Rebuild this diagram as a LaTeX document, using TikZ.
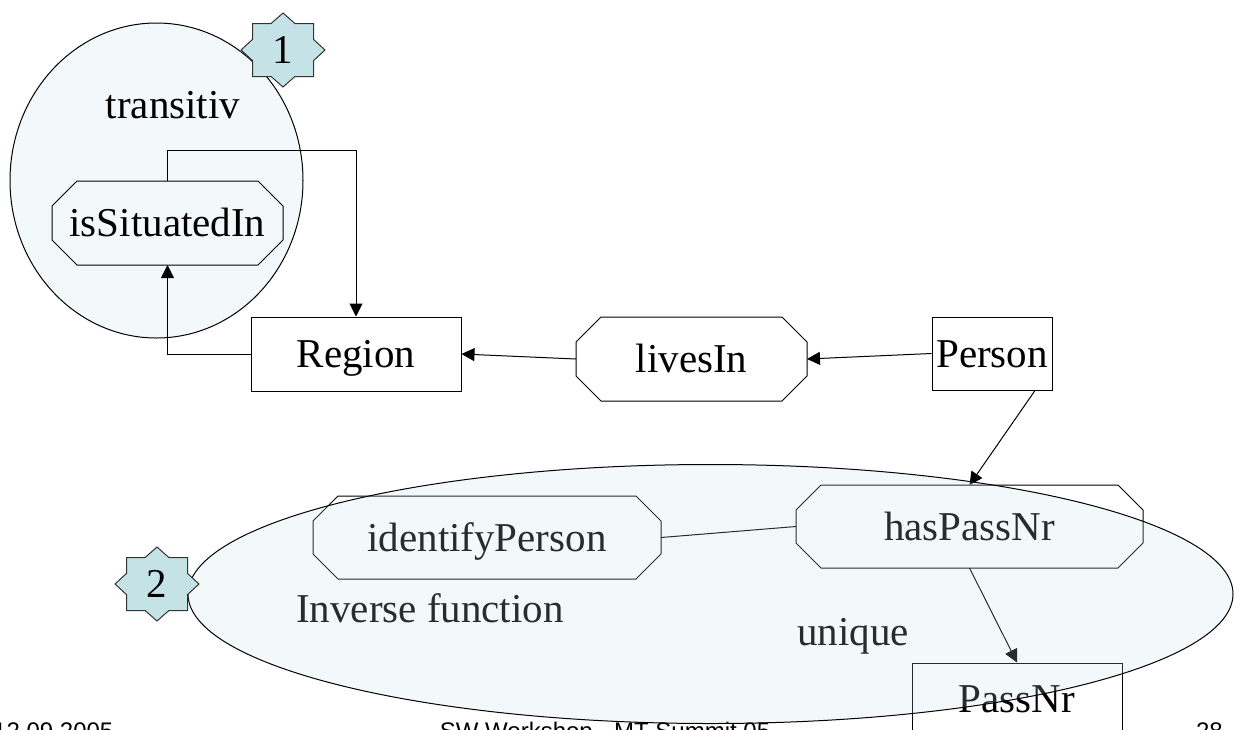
\documentclass[tikz,border=0pt]{standalone}
\usepackage{fontspec}
\setmainfont{Liberation Serif}
\newfontfamily\footfont{Liberation Sans}
\usetikzlibrary{arrows.meta,calc}
\definecolor{starblue}{RGB}{197,227,231}

\tikzset{
  octostar/.pic={
    \draw[fill=starblue, draw=black!80, line width=1pt]
      (0,-37) -- (11.9,-26.5) -- (30.5,-26.5) -- (30.5,-10.6) -- (42,0)
      -- (30.5,10.6) -- (30.5,26.5) -- (11.9,26.5) -- (0,37)
      -- (-11.9,26.5) -- (-30.5,26.5) -- (-30.5,10.6) -- (-42,0)
      -- (-30.5,-10.6) -- (-30.5,-26.5) -- (-11.9,-26.5) -- cycle;
  }
}

% chamfered outline around a property node
\newcommand\octframe[1]{%
  \draw[line width=1pt]
    ([xshift=25pt]#1.north west) -- ([xshift=-25pt]#1.north east)
    -- ([yshift=-25pt]#1.north east) -- ([yshift=25pt]#1.south east)
    -- ([xshift=-25pt]#1.south east) -- ([xshift=25pt]#1.south west)
    -- ([yshift=25pt]#1.south west) -- ([yshift=-25pt]#1.north west) -- cycle;}

\begin{document}
\begin{tikzpicture}[x=1pt,y=-1pt,
  lbl/.style={font=\fontsize{41}{49}\selectfont, inner sep=0pt,
    text height=36.5pt, text depth=8.9pt},
  entity/.style={lbl, draw, line width=1pt, rectangle},
  relation/.style={lbl, rectangle, outer sep=0pt},
  conn/.style={line width=1pt},
  arr/.style={conn, -{Triangle[length=13pt,width=13pt]}},
  foot/.style={font=\footfont\fontsize{24}{29}\selectfont, inner sep=0pt},
  group/.style={line width=1pt}
  ]
\useasboundingbox (0,0) rectangle (1234,729);
\clip (0,0) rectangle (1234,729);

% transitivity group, behind its property
\draw[group, fill=starblue!20] (156.5,180.5) ellipse [x radius=146.5, y radius=157.5];
\node[lbl, anchor=base] (trans) at (173,118) {transitiv};

% classes and properties
\node[relation, minimum width=231pt, minimum height=84pt] (sit) at (167.5,223) {isSituatedIn};
\node[entity, minimum width=210pt, minimum height=74pt] (region) at (356,354) {Region};
\node[relation, minimum width=231pt, minimum height=84pt] (lives) at (691.5,359) {livesIn};
\node[entity, minimum width=120pt, minimum height=73pt] (person) at (992,353.5) {Person};
\node[relation, minimum width=347pt, minimum height=83pt] (hpn) at (969.5,526.5) {hasPassNr};
\node[relation, minimum width=348pt, minimum height=83pt] (ident) at (487,537.5) {identifyPerson};
\node[entity, minimum width=210pt, minimum height=72pt] (pnr) at (1017,699) {PassNr};
\octframe{sit}
\octframe{lives}
\octframe{hpn}
\octframe{ident}

% connectors
\coordinate (loopTop) at (0,150);
\draw[arr] (sit.north) -- (sit.north |- loopTop) -| (region.north);
\draw[arr] (region.west) -| (sit.south);
\draw[arr] (person.west) -- (lives.east);
\draw[arr] (lives.west) -- (region.east);
\draw[arr] ([xshift=43pt]person.south) -- (hpn.north);
\draw[conn] (hpn.west) -- (ident.east);
\draw[arr] (hpn.south) -- (pnr.north);

% labels of the lower group
\node[lbl, anchor=base west] (inv) at (296,622) {Inverse function};
\node[lbl, anchor=base] (uniq) at (853,645) {unique};

% footer, running off the lower edge
\node[foot, anchor=base west] (date) at (-7,739) {12.09.2005};
\node[foot, anchor=base] (title) at (605,739) {SW Workshop - MT-Summit 05};
\node[foot, anchor=base east] (page) at (1223,739) {28};

% inverse-function group, translucent over its members
\fill[starblue, fill opacity=0.2] (710.5,594) ellipse [x radius=522.5, y radius=129.5];
\draw[group] (710.5,594) ellipse [x radius=522.5, y radius=129.5];

% numbered markers
\pic at (283,50) {octostar};
\node[lbl] (m1) at (283,50) {1};
\pic at (157,584) {octostar};
\node[lbl] (m2) at (157,584) {2};
\end{tikzpicture}
\end{document}
